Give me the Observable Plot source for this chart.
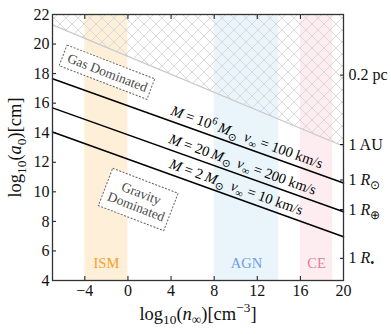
<!DOCTYPE html>
<html><head><meta charset="utf-8">
<script src="https://cdn.jsdelivr.net/npm/d3@7"></script>
<script src="https://cdn.jsdelivr.net/npm/@observablehq/plot@0.6"></script>
<style>body{margin:0;background:#fff} svg text{white-space:pre}</style>
</head><body><div id="chart"></div>
<script>
// ---- data ----
const xTicks = [-4, 0, 4, 8, 12, 16, 20];
const yTicks = [4, 6, 8, 10, 12, 14, 16, 18, 20, 22];
const lineX = [-7, 20];
const gasBoundaryY = [21.3, 13.08];
const lineM6Y = [17.65, 10.6];
const lineM20Y = [15.68, 8.65];
const lineM2Y = [14.05, 6.96];
const annLabels = ["*M* = 10^{6}\u2009*M*_{⊙}  *v*_{∞} = 100 km/s", "*M* = 20\u2009*M*_{⊙}  *v*_{∞} = 200 km/s", "*M* = 2\u2009*M*_{⊙}  *v*_{∞} = 10 km/s"];
const annX = [10.9, 10.5, 9.9];
const annY = [13.0, 11.15, 9.62];
const bandNames = ["ISM", "AGN", "CE"];
const bandStart = [-4, 8, 16];
const bandEnd = [0, 14, 19];
const bandFill = ["#feefd9", "#e9f5fb", "#fdedf1"];
const bandText = ["#f5a02e", "#6d9de6", "#e57c9e"];
const bandLabelY = 5.15;
const rightTickValues = [17.9, 13.2, 10.8, 8.8, 5.5];
const rightTickLabels = ["0.2 pc", "1 AU", "1 *R*_{⊙}", "1 *R*_{⊕}", "1 *R*_{•}"];
const regionNames = ["Gas Dominated", "Gravity\nDominated"];
const regionX = [-1.9, 1.0];
const regionY = [18.06, 9.45];
const regionBoxW = [94, 70];
const regionBoxH = [22, 40];
const yLabel = "log_{10}(*a*_{0})[cm]";
const xLabel = "log_{10}(*n*_{∞})[cm^{−3}]";

const lineAngle = 19.7;
const regionAngle = 21;
const lines = [lineM6Y, lineM20Y, lineM2Y].map(ys => lineX.map((x, i) => ({x, y: ys[i]})));
const gas = lineX.map((x, i) => ({x, y: gasBoundaryY[i], top: 22}));
const bands = bandNames.map((n, i) => ({n, x1: bandStart[i], x2: bandEnd[i], fill: bandFill[i], color: bandText[i], xm: (bandStart[i] + bandEnd[i]) / 2}));
const anns = annLabels.map((t, i) => ({t, x: annX[i], y: annY[i]}));
const regions = regionNames.map((t, i) => ({t, x: regionX[i], y: regionY[i]}));

const plot = Plot.plot({
  width: 391, height: 334,
  marginLeft: 52, marginRight: 48, marginTop: 14, marginBottom: 54,
  x: {domain: [-7, 20]},
  y: {domain: [4, 22]},
  style: {fontFamily: "Liberation Serif, serif", fontSize: "16px", color: "#111", background: "#fff"},
  marks: [
    Plot.rect(bands, {x1: "x1", x2: "x2", fill: "fill"}),
    Plot.areaY(gas, {x: "x", y1: "y", y2: "top", fill: "url(#hatch)"}),
    Plot.line(gas, {x: "x", y: "y", stroke: "#c9c9c9", strokeWidth: 1.2}),
    ...lines.map(l => Plot.line(l, {x: "x", y: "y", stroke: "#000", strokeWidth: 1.5})),
    Plot.text(anns, {x: "x", y: "y", text: "t", rotate: lineAngle, dy: -6, fontSize: 14.5, fill: "#000", textAnchor: "middle", lineAnchor: "bottom"}),
    Plot.text(bands, {x: "xm", y: () => bandLabelY, text: "n", fill: "color", fontSize: 14.5}),
    Plot.text(regions, {x: "x", y: "y", text: "t", rotate: regionAngle, fontSize: 13.5, fill: "#4a4a4a", className: "region-label", lineHeight: 1.05}),
    Plot.axisY({ticks: yTicks, tickSize: -4, tickPadding: 7, label: null, fontSize: 16}),
    Plot.axisX({ticks: xTicks, tickSize: -4, tickPadding: 8, label: null, fontSize: 16}),
    Plot.axisX({anchor: "top", ticks: xTicks, tickSize: -4, tickFormat: () => "", label: null}),
    Plot.axisY({anchor: "right", ticks: rightTickValues, tickSize: -4, tickPadding: 9, tickFormat: (d) => rightTickLabels[rightTickValues.indexOf(d)], label: null, fontSize: 16}),
    Plot.text([yLabel], {x: () => -7, y: () => 13, dx: -37, rotate: -90, textAnchor: "middle", lineAnchor: "middle", fontSize: 18.5, fill: "#111"}),
    Plot.text([xLabel], {frameAnchor: "bottom", dy: 39, textAnchor: "middle", fontSize: 18.5, fill: "#111"}),
    Plot.frame({stroke: "#333", strokeWidth: 1.3})
  ]
});

// hatch pattern
const NS = "http://www.w3.org/2000/svg";
const defs = document.createElementNS(NS, "defs");
defs.innerHTML = `<pattern id="hatch" patternUnits="userSpaceOnUse" width="12" height="12">
<path d="M0,0L12,12M12,0L0,12" stroke="#d9d9d9" stroke-width="1" fill="none"/></pattern>`;
plot.insertBefore(defs, plot.firstChild);

// rich text
function rich(el, src) {
  const fs = parseFloat(getComputedStyle(el).fontSize) || 14;
  el.textContent = "";
  let italic = false, shift = 0, buf = "", i = 0;
  function add(str, mode) {
    const t = document.createElementNS(NS, "tspan");
    t.textContent = str;
    if (italic) t.setAttribute("font-style", "italic");
    let target = 0;
    if (mode === "sup") target = -0.4 * fs;
    if (mode === "sub") target = 0.25 * fs;
    if (mode) t.setAttribute("font-size", 0.72 * fs);
    const d = target - shift;
    if (d) t.setAttribute("dy", d.toFixed(2));
    shift = target;
    el.appendChild(t);
  }
  while (i < src.length) {
    const c = src[i];
    if (c === "*") { if (buf) add(buf); buf = ""; italic = !italic; i++; }
    else if ((c === "^" || c === "_") && src[i + 1] === "{") {
      if (buf) add(buf); buf = "";
      const j = src.indexOf("}", i);
      add(src.slice(i + 2, j), c === "^" ? "sup" : "sub");
      i = j + 1;
    } else { buf += c; i++; }
  }
  if (buf) add(buf);
}
document.getElementById("chart").appendChild(plot);
plot.querySelectorAll("text").forEach(el => {
  const s = el.textContent;
  if (/[*_^]/.test(s) && el.children.length === 0) rich(el, s);
});

// dashed boxes behind region labels
const sx = plot.scale("x"), sy = plot.scale("y");
const regionG = plot.querySelector("g.region-label");
regions.forEach((r, i) => {
  const g = document.createElementNS(NS, "g");
  g.setAttribute("transform", `translate(${sx.apply(r.x)},${sy.apply(r.y)}) rotate(${regionAngle})`);
  const rect = document.createElementNS(NS, "rect");
  rect.setAttribute("x", -regionBoxW[i] / 2); rect.setAttribute("y", -regionBoxH[i] / 2);
  rect.setAttribute("width", regionBoxW[i]); rect.setAttribute("height", regionBoxH[i]);
  rect.setAttribute("fill", "#fff"); rect.setAttribute("stroke", "#666");
  rect.setAttribute("stroke-width", "1"); rect.setAttribute("stroke-dasharray", "2,1.5");
  g.appendChild(rect);
  regionG.parentNode.insertBefore(g, regionG);
});
</script></body></html>
